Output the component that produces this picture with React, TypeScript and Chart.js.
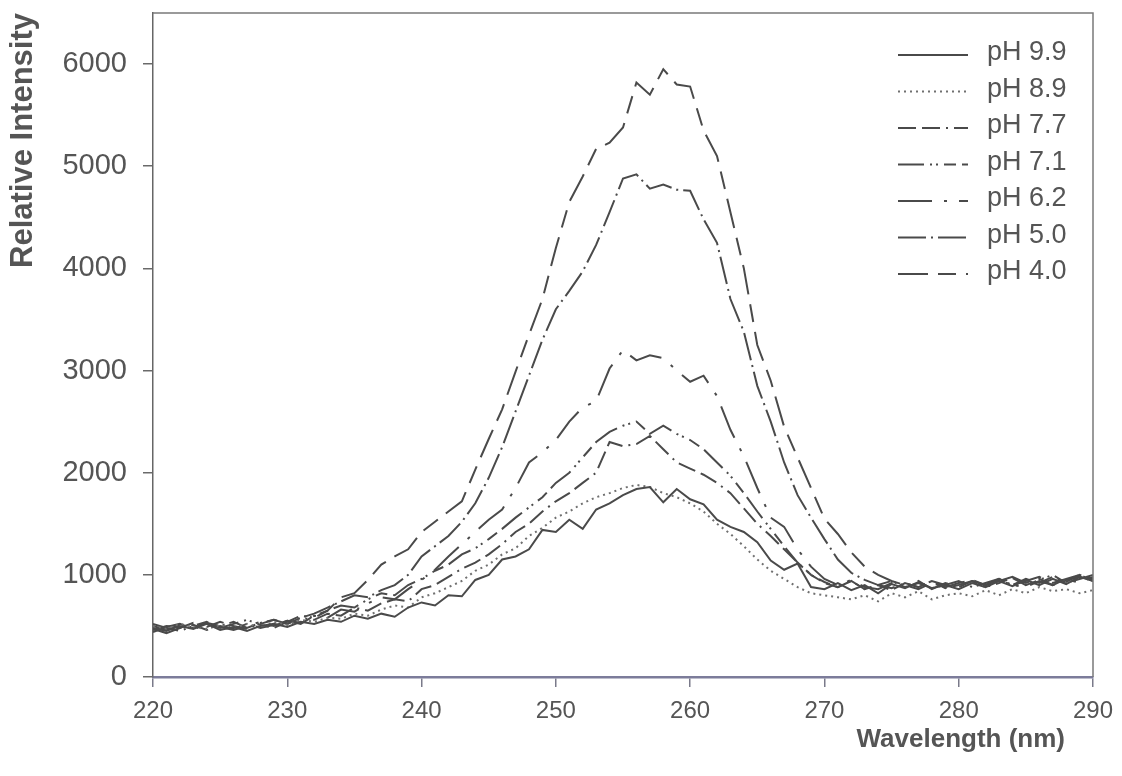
import React, { useEffect, useRef } from 'react';
import { Chart, registerables } from 'chart.js';

Chart.register(...registerables);

const wavelengths = [
  220, 221, 222, 223, 224, 225, 226, 227, 228, 229,
  230, 231, 232, 233, 234, 235, 236, 237, 238, 239,
  240, 241, 242, 243, 244, 245, 246, 247, 248, 249,
  250, 251, 252, 253, 254, 255, 256, 257, 258, 259,
  260, 261, 262, 263, 264, 265, 266, 267, 268, 269,
  270, 271, 272, 273, 274, 275, 276, 277, 278, 279,
  280, 281, 282, 283, 284, 285, 286, 287, 288, 289, 290,
];

const ph99 = [
  480, 450, 500, 470, 520, 460, 490, 450, 500, 520,
  490, 540, 520, 560, 540, 600, 570, 620, 590, 680,
  730, 700, 800, 790, 950, 1000, 1150, 1180, 1250, 1440,
  1420, 1540, 1450, 1640, 1700, 1780, 1840, 1860, 1710, 1840,
  1740, 1690, 1540, 1470, 1420, 1320, 1140, 1050, 1110, 880,
  860, 920, 850, 900, 820, 910, 870, 930, 870, 900,
  860, 920, 880, 940, 890, 950, 900, 960, 910, 980, 950,
];

const ph89 = [
  500, 470, 520, 490, 470, 510, 480, 520, 490, 540,
  510, 560, 540, 580, 570, 620, 600, 660, 700, 680,
  780, 820, 880, 940, 1040, 1100, 1200, 1260, 1380, 1460,
  1560, 1620, 1700, 1760, 1800, 1850, 1880, 1860, 1800, 1760,
  1700, 1620, 1500, 1400, 1280, 1150, 1040, 960, 880, 820,
  800, 780, 760, 800, 740, 820, 780, 840, 760, 800,
  820, 790, 850, 800, 860, 820, 880, 840, 860, 820, 850,
];

const ph77 = [
  460, 500, 480, 530, 490, 540, 500, 470, 520, 560,
  520, 580, 560, 620, 600, 680, 650, 720, 760, 740,
  860, 900, 980, 1060, 1120, 1200, 1300, 1420, 1500, 1620,
  1720, 1800, 1900, 2000, 2300, 2260, 2280, 2360, 2230, 2100,
  2040, 1980, 1900, 1800, 1650, 1500, 1380, 1250, 1120, 1000,
  920, 880, 940, 860, 900, 870, 920, 880, 940, 900,
  880, 940, 900, 950, 900, 960, 920, 980, 930, 1000, 960,
];

const ph71 = [
  520, 480, 450, 500, 540, 480, 520, 560, 510, 480,
  540, 600, 580, 650, 700, 680, 760, 820, 800, 900,
  960, 1040, 1100, 1200, 1260, 1350, 1450, 1560, 1660, 1760,
  1900, 2000, 2150, 2300, 2400, 2460, 2500, 2380, 2460, 2380,
  2320, 2230, 2100, 1970, 1800, 1620, 1450, 1280, 1120, 1000,
  930, 880, 940, 860, 900, 850, 920, 880, 940, 870,
  900, 940, 880, 920, 970, 900, 950, 1000, 920, 960, 1000,
];

const ph62 = [
  440, 490, 520, 470, 510, 490, 460, 500, 540, 500,
  550, 530, 600, 580, 660, 640, 720, 780, 760, 860,
  950, 1050, 1180, 1300, 1420, 1540, 1640, 1850, 2100, 2200,
  2320, 2500, 2640, 2700, 3020, 3200, 3100, 3150, 3120, 3000,
  2890, 2950, 2750, 2420, 2160, 1850, 1560, 1470, 1250, 1080,
  960, 900, 950, 880, 860, 920, 880, 940, 860, 920,
  880, 940, 900, 960, 900, 880, 940, 900, 960, 920, 980,
];

const ph50 = [
  500, 460, 510, 480, 530, 500, 540, 480, 530, 560,
  520, 580, 620, 680, 740, 800, 780, 850, 900, 1000,
  1180, 1280, 1380, 1520, 1700, 1950, 2250, 2600, 2950, 3300,
  3600, 3780, 3970, 4230, 4550, 4880, 4920, 4780, 4820, 4770,
  4760, 4480, 4250, 3700, 3380, 2850, 2500, 2100, 1780, 1560,
  1350, 1150, 1020, 950, 900, 940, 880, 920, 870, 900,
  940, 880, 920, 960, 900, 940, 980, 920, 960, 1000, 940,
];

const ph40 = [
  470, 430, 480, 510, 460, 500, 470, 520, 480, 510,
  550, 520, 600, 650, 780, 820, 950, 1100, 1180, 1250,
  1420, 1520, 1620, 1720, 2030, 2330, 2620, 2990, 3350, 3700,
  4200, 4650, 4900, 5170, 5230, 5380, 5820, 5700, 5950, 5800,
  5780, 5350, 5100, 4550, 4000, 3250, 2900, 2450, 2150, 1850,
  1550, 1400, 1220, 1080, 1000, 940, 900, 860, 920, 880,
  920, 950, 900, 940, 980, 920, 960, 900, 950, 980, 940,
];

const seriesLabels = ['pH 9.9', 'pH 8.9', 'pH 7.7', 'pH 7.1', 'pH 6.2', 'pH 5.0', 'pH 4.0'];
const seriesValues = [ph99, ph89, ph77, ph71, ph62, ph50, ph40];
const seriesDashes = [
  [],
  [2, 4],
  [18, 6, 18, 6, 2, 6],
  [26, 6, 2, 4, 2, 6, 12, 6],
  [34, 12, 3, 12],
  [28, 5, 2, 5],
  [30, 10, 18, 10],
];
const seriesColors = ['#4a4a4a', '#707070', '#4a4a4a', '#4a4a4a', '#4a4a4a', '#4a4a4a', '#4a4a4a'];

const xTickValues = [220, 230, 240, 250, 260, 270, 280, 290];
const yTickValues = [0, 1000, 2000, 3000, 4000, 5000, 6000];

const xTitle = 'Wavelength (nm)';
const yTitle = 'Relative Intensity';

const FONT = "'Liberation Sans', Arial, sans-serif";
const TEXT = '#555555';

const decorPlugin = {
  id: 'decor',
  afterDraw(chart: any) {
    const ctx = chart.ctx;
    const a = chart.chartArea;
    ctx.save();
    ctx.strokeStyle = '#7a7a7a';
    ctx.lineWidth = 1.5;
    ctx.setLineDash([]);
    ctx.beginPath();
    ctx.moveTo(a.left, a.top);
    ctx.lineTo(a.right, a.top);
    ctx.lineTo(a.right, a.bottom);
    ctx.stroke();

    const rowStart = a.top + 40;
    const rowGap = 36.5;
    chart.data.datasets.forEach((ds: any, i: number) => {
      const y = rowStart + i * rowGap;
      ctx.strokeStyle = ds.borderColor;
      ctx.lineWidth = 2;
      ctx.setLineDash(ds.borderDash || []);
      ctx.beginPath();
      ctx.moveTo(a.right - 195, y + 2);
      ctx.lineTo(a.right - 125, y + 2);
      ctx.stroke();
      ctx.setLineDash([]);
      ctx.fillStyle = TEXT;
      ctx.font = `27px ${FONT}`;
      ctx.textAlign = 'left';
      ctx.textBaseline = 'middle';
      ctx.fillText(ds.label, a.right - 106, y);
    });

    ctx.fillStyle = TEXT;
    ctx.font = `bold 26px ${FONT}`;
    ctx.textAlign = 'right';
    ctx.textBaseline = 'alphabetic';
    ctx.fillText(xTitle, a.right - 28, a.bottom + 70);
    ctx.restore();
  },
};

export default function App() {
  const ref = useRef<HTMLCanvasElement | null>(null);

  useEffect(() => {
    if (!ref.current) return;
    const chart = new Chart(ref.current, {
      type: 'line',
      data: {
        datasets: seriesValues.map((vals, i) => ({
          label: seriesLabels[i],
          data: vals.map((v, j) => ({ x: wavelengths[j], y: v })),
          borderColor: seriesColors[i],
          borderWidth: 2,
          borderDash: seriesDashes[i],
          pointRadius: 0,
          fill: false,
          tension: 0,
        })),
      },
      options: {
        animation: false,
        responsive: true,
        maintainAspectRatio: false,
        layout: { padding: { top: 13, right: 29, left: 0, bottom: 0 } },
        plugins: {
          legend: { display: false },
          tooltip: { enabled: false },
        },
        scales: {
          x: {
            type: 'linear',
            min: 220,
            max: 290,
            afterBuildTicks: (s: any) => {
              s.ticks = xTickValues.map((v) => ({ value: v }));
            },
            afterFit: (s: any) => {
              s.height = 99;
              s.paddingLeft = 0;
              s.paddingRight = 0;
            },
            ticks: {
              font: { family: FONT, size: 24 },
              color: TEXT,
              padding: 10,
              maxRotation: 0,
              autoSkip: false,
              callback: (v: any) => String(v),
            },
            grid: {
              display: true,
              drawOnChartArea: false,
              drawTicks: true,
              tickLength: 10,
              color: '#7a7a8a',
              lineWidth: 1.5,
            },
            border: { display: true, color: '#7c7c9a', width: 2.5 },
          },
          y: {
            type: 'linear',
            min: 0,
            max: 6500,
            afterBuildTicks: (s: any) => {
              s.ticks = yTickValues.map((v) => ({ value: v }));
            },
            afterFit: (s: any) => {
              s.width = 153;
              s.paddingTop = 0;
              s.paddingBottom = 0;
            },
            ticks: {
              font: { family: FONT, size: 29 },
              color: TEXT,
              padding: 16,
              autoSkip: false,
              callback: (v: any) => String(v),
            },
            grid: {
              display: true,
              drawOnChartArea: false,
              drawTicks: true,
              tickLength: 10,
              color: '#6a6a6a',
              lineWidth: 1.5,
            },
            border: { display: true, color: '#666666', width: 1.5 },
            title: {
              display: true,
              text: yTitle,
              align: 'end',
              color: TEXT,
              font: { family: FONT, size: 31, weight: 'bold' },
              padding: { top: 5, bottom: 0 },
            },
          },
        },
      },
      plugins: [decorPlugin],
    } as any);
    return () => chart.destroy();
  }, []);

  return (
    <div style={{ position: 'absolute', left: 0, top: 0, width: 1122, height: 776, background: '#ffffff' }}>
      <canvas ref={ref} />
    </div>
  );
}
